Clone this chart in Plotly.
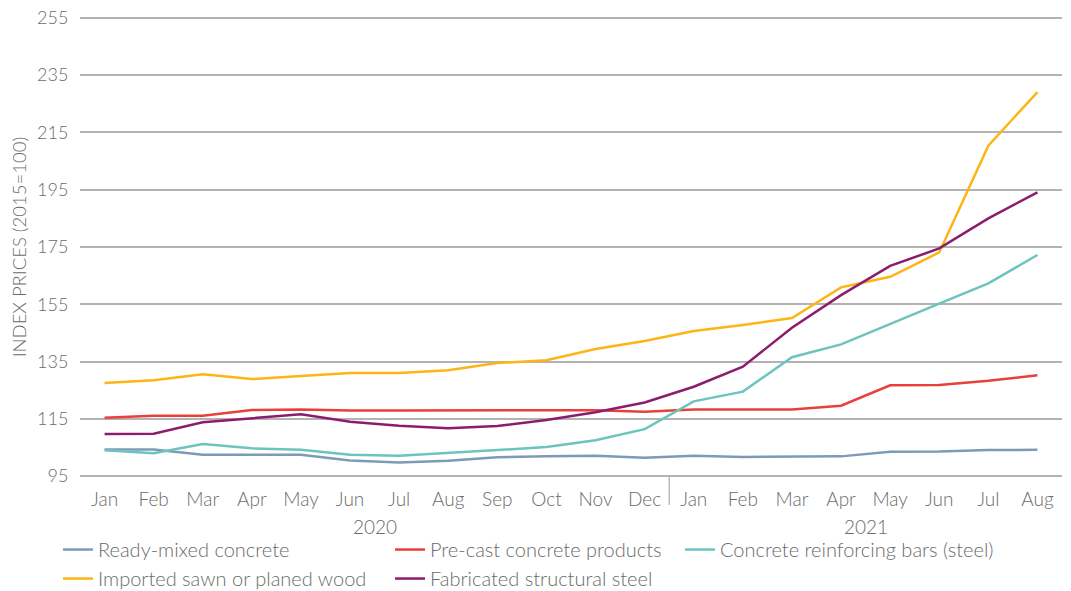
import plotly.graph_objects as go

months_2020 = ["Jan", "Feb", "Mar", "Apr", "May", "Jun", "Jul", "Aug", "Sep", "Oct", "Nov", "Dec"]
months_2021 = ["Jan", "Feb", "Mar", "Apr", "May", "Jun", "Jul", "Aug"]
months = months_2020 + months_2021
year_labels = ["2020", "2021"]

ready_mixed = [104.3, 104.3, 102.5, 102.4, 102.5, 100.5, 99.8, 100.4, 101.6, 101.9, 102.1, 101.4,
               102.1, 101.7, 101.9, 101.9, 103.5, 103.6, 104.1, 104.2]
pre_cast = [115.4, 116.1, 116.1, 118.1, 118.3, 117.9, 117.9, 118.0, 118.0, 118.0, 118.0, 117.5,
            118.3, 118.4, 118.3, 119.6, 126.7, 126.8, 128.3, 130.2]
rebar = [104.0, 103.0, 106.2, 104.7, 104.2, 102.5, 102.1, 103.0, 104.1, 105.2, 107.5, 111.4,
         121.1, 124.5, 136.5, 141.0, 148.0, 155.2, 162.3, 172.2]
wood = [127.5, 128.5, 130.6, 128.9, 130.0, 131.0, 131.0, 132.0, 134.5, 135.5, 139.4, 142.2,
        145.7, 147.8, 150.2, 160.9, 164.6, 173.1, 210.4, 229.1]
struct_steel = [109.7, 109.8, 113.8, 115.2, 116.6, 114.0, 112.6, 111.7, 112.5, 114.6, 117.3, 120.7,
                126.2, 133.2, 146.8, 158.2, 168.4, 174.5, 185.0, 194.1]

y_ticks = [95, 115, 135, 155, 175, 195, 215, 235, 255]

# (name, values, colour, legend column)
series = [
    ("Ready-mixed concrete", ready_mixed, "#7D9AB8", "legend"),
    ("Pre-cast concrete products", pre_cast, "#E8403A", "legend2"),
    ("Concrete reinforcing bars (steel)", rebar, "#6CC4BE", "legend3"),
    ("Imported sawn or planed wood", wood, "#FDB515", "legend"),
    ("Fabricated structural steel", struct_steel, "#8C1D6E", "legend2"),
]

x_idx = list(range(len(months)))
n2020 = len(months_2020)
n2021 = len(months_2021)

fig = go.Figure()
for name, vals, color, leg in series:
    fig.add_trace(go.Scatter(
        x=x_idx, y=vals, name=name, mode="lines", legend=leg,
        line=dict(color=color, width=2.5),
    ))

font_family = "Lato, 'Open Sans', sans-serif"
text_color = "#6b6b6b"
tfont = dict(size=19, color=text_color, weight=300)

# year group labels and divider between the years
fig.add_annotation(x=(n2020 - 1) / 2, y=-0.1034, xref="x", yref="paper", text=year_labels[0],
                   showarrow=False, yanchor="middle", font=tfont)
fig.add_annotation(x=n2020 + (n2021 - 1) / 2, y=-0.1034, xref="x", yref="paper", text=year_labels[1],
                   showarrow=False, yanchor="middle", font=tfont)
fig.add_shape(type="line", x0=n2020 - 0.5, x1=n2020 - 0.5, xref="x", y0=0.004, y1=-0.056, yref="paper",
              line=dict(color="#9a9a9a", width=1))

leg_common = dict(orientation="v", xanchor="left", y=-0.11, yanchor="top",
                  font=dict(size=20, color=text_color, weight=300), traceorder="normal",
                  itemwidth=30, tracegroupgap=0, bgcolor="rgba(0,0,0,0)")

fig.update_layout(
    width=1063, height=583,
    margin=dict(l=72, r=9, t=7, b=112, autoexpand=False),
    paper_bgcolor="white", plot_bgcolor="white",
    font=dict(family=font_family, color=text_color, size=19, weight=300),
    showlegend=True,
    legend=dict(x=-0.0224, **leg_common),
    legend2=dict(x=0.3157, **leg_common),
    legend3=dict(x=0.611, **leg_common),
    xaxis=dict(
        tickmode="array", tickvals=x_idx, ticktext=months,
        showgrid=False, showline=False, zeroline=False,
        ticks="outside", ticklen=3, tickcolor="rgba(0,0,0,0)",
        tickfont=tfont,
        range=[-0.5, len(months) - 0.5], automargin=False,
    ),
    yaxis=dict(
        range=[94, 256], tickvals=y_ticks, showgrid=True, gridcolor="#b3b3b3", gridwidth=1.5,
        zeroline=False, showline=False, ticklabeloverflow="allow",
        ticks="outside", ticklen=7, tickcolor="rgba(0,0,0,0)",
        tickfont=dict(size=18, color=text_color, weight=300), automargin=False,
        title=dict(text="INDEX PRICES (2015=100)", font=dict(size=18.5, color=text_color, weight=300), standoff=9),
    ),
)

fig.write_html("out.html")
